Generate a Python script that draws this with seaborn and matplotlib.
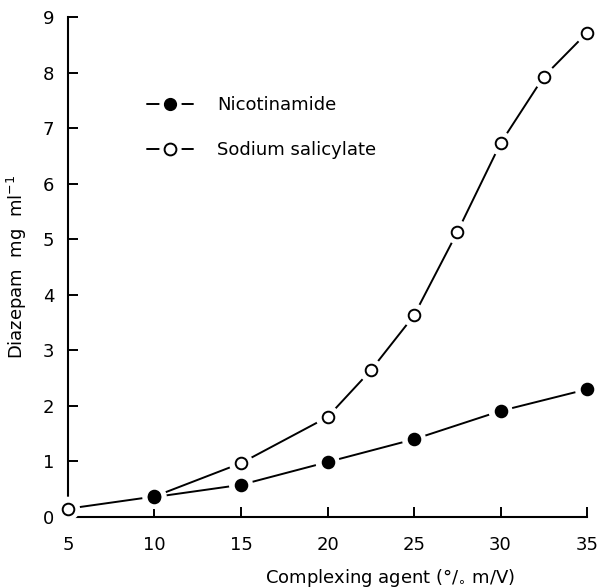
import pandas as pd
import matplotlib
matplotlib.use('Agg')
import matplotlib.pyplot as plt
import seaborn as sns
from matplotlib.lines import Line2D

# Data
nic_x = [10, 15, 20, 25, 30, 35]
nic_y = [0.36, 0.58, 0.99, 1.40, 1.91, 2.30]
sal_x = [5, 10, 15, 20, 22.5, 25, 27.5, 30, 32.5, 35]
sal_y = [0.15, 0.37, 0.97, 1.80, 2.64, 3.63, 5.13, 6.73, 7.93, 8.72]
x_ticks = [5, 10, 15, 20, 25, 30, 35]
y_ticks = [0, 1, 2, 3, 4, 5, 6, 7, 8, 9]

nic = pd.DataFrame({'conc': nic_x, 'diaz': nic_y})
sal = pd.DataFrame({'conc': sal_x, 'diaz': sal_y})

sns.set_style('ticks')
plt.rcParams['font.family'] = ['DejaVu Sans']

fig = plt.figure(figsize=(5.99, 5.88), dpi=100)
ax = fig.add_axes([0.1135, 0.1207, 0.8665, 0.85])

for df in [sal, nic]:
    sns.lineplot(data=df, x='conc', y='diaz', color='black', linewidth=1.4, ax=ax, zorder=2)
    # white halo so the line stops short of each marker
    sns.scatterplot(data=df, x='conc', y='diaz', s=300, color='white', edgecolor='none',
                    ax=ax, zorder=3, clip_on=False)
for df, face in [(sal, 'white'), (nic, 'black')]:
    sns.scatterplot(data=df, x='conc', y='diaz', s=70, color=face, edgecolor='black',
                    linewidth=1.4, ax=ax, zorder=4, clip_on=False)

ax.set_xlim(5, 35)
ax.set_ylim(0, 9)
ax.set_xticks(x_ticks)
ax.set_yticks(y_ticks)
ax.tick_params(direction='in', length=7, width=1.4, labelsize=13, colors='black')
ax.tick_params(axis='x', pad=14)
ax.tick_params(axis='y', pad=10)
for side in ['top', 'right']:
    ax.spines[side].set_visible(False)
for side in ['left', 'bottom']:
    ax.spines[side].set_linewidth(1.5)
    ax.spines[side].set_color('black')

ax.set_xlabel('Complexing agent (°/$_{\\circ}$ m/V)', fontsize=13, color='black')
ax.xaxis.set_label_coords(0.62, -0.1)
ax.set_ylabel('Diazepam  mg  ml$^{-1}$', fontsize=13, color='black')
ax.yaxis.set_label_coords(-0.075, 0.5)

line = Line2D([], [], color='black', linewidth=1.4)
halo = Line2D([], [], linestyle='none', marker='o', markersize=15, color='white')
h_nic = Line2D([], [], linestyle='none', marker='o', markersize=8.5,
               markerfacecolor='black', markeredgecolor='black')
h_sal = Line2D([], [], linestyle='none', marker='o', markersize=8.5,
               markerfacecolor='white', markeredgecolor='black', markeredgewidth=1.4)
leg = ax.legend([(line, halo, h_nic), (line, halo, h_sal)], ['Nicotinamide', 'Sodium salicylate'],
                loc='upper left', bbox_to_anchor=(0.12, 0.875), frameon=False,
                fontsize=13, labelspacing=1.5, handlelength=2.6, handletextpad=1.3)
for t in leg.get_texts():
    t.set_color('black')

fig.savefig('out.png', dpi=100)
